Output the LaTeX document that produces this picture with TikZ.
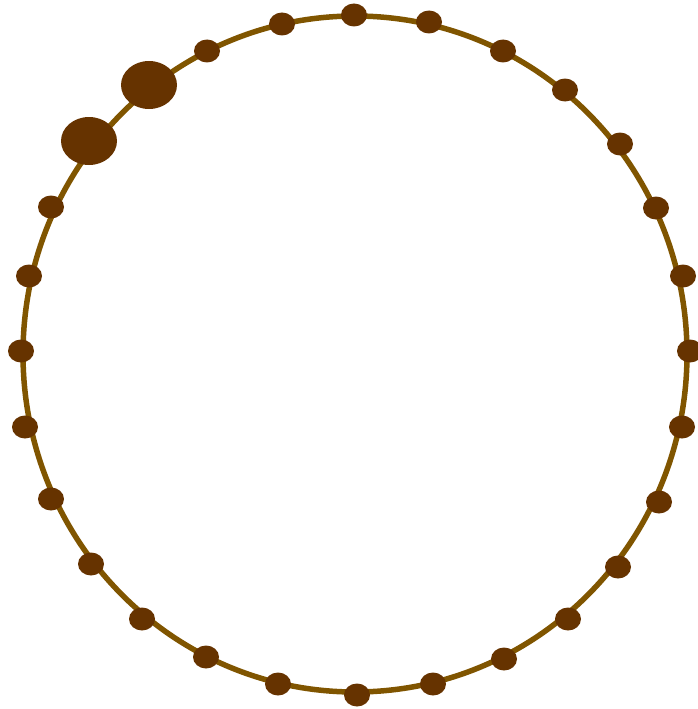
\documentclass[tikz,border=0pt]{standalone}
\usetikzlibrary{shapes.geometric}
\definecolor{ring}{RGB}{128,85,0}
\definecolor{beadc}{RGB}{102,51,0}
\tikzset{
  bead/.style={ellipse,fill=beadc,draw=none,inner sep=0pt,minimum width=26pt,minimum height=23pt},
  bigbead/.style={ellipse,fill=beadc,draw=none,inner sep=0pt,minimum width=56pt,minimum height=48pt}
}
\begin{document}
\begin{tikzpicture}[x=1pt,y=1pt]
\useasboundingbox (0,0) rectangle (698,-709);
\coordinate (c) at (355,-354);
\draw[ring,line width=5.5pt] (c) ellipse [x radius=332, y radius=338];
\foreach \n/\x/\y in {0/354/15, 1/429/22, 2/503/51, 3/565/90, 4/620/144, 5/656/208,
  6/683/276, 7/690/351, 8/682/427, 9/659/502, 10/618/567, 11/568/619, 12/504/659,
  13/433/684, 14/357/695, 15/278/684, 16/206/657, 17/142/619, 18/91/564, 19/51/499,
  20/25/427, 21/21/351, 22/29/276, 23/51/207, 26/207/51, 27/282/24}{
  \node[bead] (b\n) at (\x,-\y) {};
}
\node[bigbead] (b24) at (89,-141) {};
\node[bigbead] (b25) at (149,-85) {};
\end{tikzpicture}
\end{document}
